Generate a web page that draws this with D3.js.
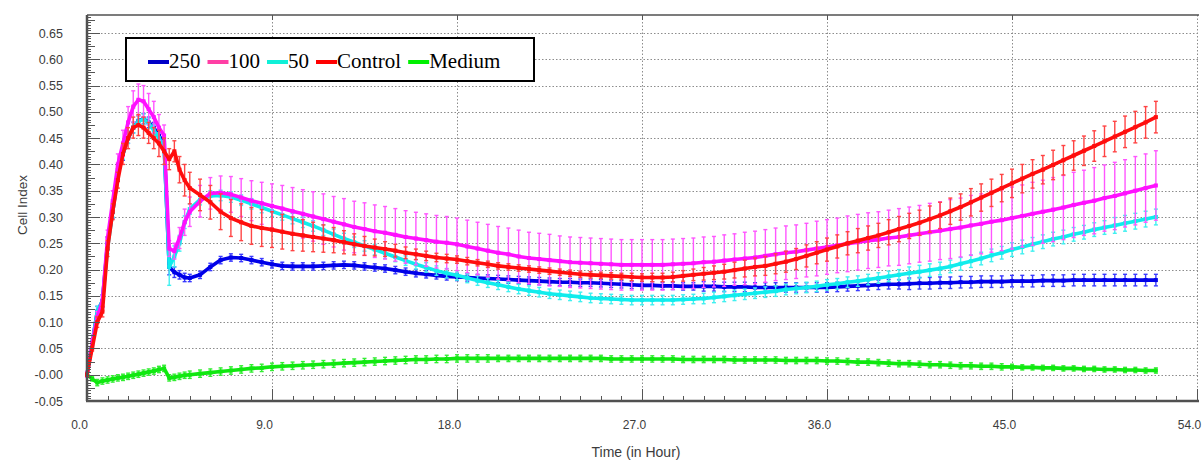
<!DOCTYPE html>
<html><head><meta charset="utf-8">
<script src="https://cdn.jsdelivr.net/npm/d3@7"></script>
<style>body{margin:0;background:#fff;} svg{display:block;}</style>
</head><body><svg id="chart" width="1202" height="461"></svg>
<script>
// sampling times (hours): every 0.25 h up to 5 h, then every 0.5 h
const hours = d3.range(0, 5, 0.25).concat(d3.range(5, 52.01, 0.5));

const seriesNames = ["250", "100", "50", "Control", "Medium"];

const vals250 = [0,0.06,0.12,0.14,0.25,0.31,0.38,0.42,0.45,0.47,0.483,0.487,0.48,0.47,0.455,0.44,0.205,0.195,0.19,0.185,
0.184,0.19,0.205,0.218,0.223,0.222,0.218,0.214,0.21,0.207,
0.206,0.206,0.206,0.207,0.208,0.209,0.208,0.206,0.204,0.202,
0.199,0.196,0.193,0.191,0.189,0.187,0.186,0.185,0.184,0.183,
0.182,0.181,0.180,0.179,0.178,0.177,0.176,0.176,0.175,0.175,
0.174,0.173,0.172,0.171,0.170,0.170,0.169,0.169,0.168,0.168,
0.168,0.168,0.167,0.167,0.167,0.166,0.166,0.166,0.166,0.166,
0.166,0.166,0.166,0.167,0.168,0.169,0.170,0.171,0.172,0.172,
0.173,0.174,0.174,0.175,0.175,0.176,0.176,0.177,0.177,0.177,
0.178,0.178,0.178,0.179,0.179,0.179,0.180,0.180,0.180,0.180,
0.180,0.180,0.180,0.180,0.180];

const vals100 = [0,0.06,0.11,0.14,0.26,0.33,0.40,0.44,0.48,0.51,0.523,0.52,0.505,0.49,0.47,0.455,0.24,0.235,0.26,0.29,
0.31,0.33,0.345,0.346,0.343,0.337,0.331,0.326,0.321,0.316,
0.311,0.306,0.301,0.296,0.291,0.286,0.281,0.277,0.273,0.270,
0.266,0.262,0.259,0.256,0.253,0.251,0.248,0.244,0.240,0.236,
0.232,0.229,0.225,0.222,0.220,0.218,0.216,0.214,0.213,0.212,
0.211,0.210,0.209,0.209,0.209,0.209,0.209,0.210,0.211,0.212,
0.214,0.215,0.217,0.219,0.221,0.223,0.226,0.229,0.232,0.234,
0.237,0.240,0.243,0.246,0.249,0.252,0.255,0.257,0.260,0.262,
0.265,0.268,0.271,0.274,0.277,0.280,0.284,0.287,0.291,0.294,
0.298,0.302,0.306,0.310,0.314,0.318,0.323,0.327,0.331,0.336,
0.340,0.345,0.350,0.355,0.360];

const vals50 = [0,0.06,0.12,0.14,0.24,0.31,0.38,0.42,0.45,0.47,0.482,0.486,0.478,0.465,0.45,0.435,0.205,0.225,0.25,0.29,
0.315,0.333,0.340,0.341,0.338,0.332,0.325,0.318,0.311,0.304,
0.297,0.290,0.283,0.275,0.267,0.259,0.252,0.245,0.238,0.231,
0.224,0.217,0.210,0.204,0.198,0.193,0.189,0.184,0.179,0.175,
0.171,0.167,0.163,0.160,0.157,0.154,0.152,0.150,0.148,0.146,
0.145,0.144,0.143,0.142,0.142,0.142,0.142,0.142,0.143,0.144,
0.145,0.147,0.149,0.151,0.153,0.155,0.157,0.159,0.162,0.164,
0.166,0.168,0.171,0.173,0.176,0.178,0.181,0.184,0.187,0.190,
0.193,0.196,0.199,0.202,0.206,0.211,0.216,0.221,0.227,0.232,
0.238,0.243,0.248,0.253,0.258,0.262,0.267,0.271,0.276,0.280,
0.284,0.288,0.292,0.296,0.300];

const valsControl = [0,0.05,0.10,0.12,0.24,0.31,0.37,0.42,0.45,0.47,0.475,0.47,0.46,0.45,0.44,0.425,0.41,0.425,0.39,0.37,
0.355,0.342,0.328,0.31,0.298,0.29,0.283,0.279,0.276,0.272,
0.268,0.265,0.262,0.259,0.256,0.252,0.248,0.245,0.242,0.239,
0.236,0.232,0.229,0.226,0.223,0.221,0.219,0.216,0.213,0.210,
0.207,0.205,0.203,0.201,0.199,0.197,0.195,0.193,0.191,0.190,
0.189,0.188,0.187,0.186,0.185,0.185,0.185,0.186,0.188,0.190,
0.192,0.194,0.196,0.199,0.202,0.205,0.207,0.211,0.215,0.220,
0.226,0.232,0.238,0.244,0.250,0.255,0.260,0.265,0.271,0.277,
0.283,0.289,0.296,0.303,0.311,0.319,0.328,0.337,0.346,0.355,
0.364,0.373,0.382,0.390,0.399,0.408,0.417,0.426,0.435,0.444,
0.453,0.462,0.471,0.480,0.490];

const valsMedium = [0,-0.008,-0.015,-0.012,-0.010,-0.008,-0.006,-0.005,-0.003,-0.001,0.001,0.003,0.005,0.007,0.010,0.012,-0.006,-0.005,-0.003,-0.001,
0.000,0.002,0.004,0.006,0.008,0.010,0.012,0.013,0.015,0.016,
0.017,0.018,0.019,0.020,0.021,0.022,0.023,0.024,0.025,0.026,
0.027,0.028,0.029,0.029,0.030,0.030,0.031,0.031,0.031,0.031,
0.031,0.031,0.031,0.031,0.031,0.031,0.031,0.031,0.031,0.031,
0.031,0.030,0.030,0.030,0.030,0.030,0.030,0.030,0.029,0.029,
0.029,0.029,0.029,0.028,0.028,0.028,0.028,0.028,0.027,0.027,
0.027,0.027,0.026,0.026,0.025,0.024,0.024,0.023,0.022,0.021,
0.021,0.020,0.019,0.019,0.018,0.017,0.017,0.016,0.016,0.015,
0.015,0.014,0.014,0.013,0.013,0.012,0.012,0.011,0.011,0.010,
0.010,0.009,0.009,0.008,0.008];

// standard deviations (error bars)
const sd250 = [0.003,0.005,0.01,0.012,0.012,0.012,0.012,0.012,0.01,0.01,0.01,0.01,0.01,0.01,0.01,0.01,0.015,0.01,0.008,0.008,
0.007,0.007,0.007,0.007,0.007,0.007,0.007,0.007,0.007,0.007,
0.007,0.007,0.007,0.007,0.007,0.007,0.007,0.007,0.007,0.007,
0.007,0.007,0.007,0.007,0.007,0.007,0.007,0.007,0.007,0.007,
0.007,0.007,0.007,0.007,0.007,0.007,0.007,0.007,0.007,0.007,
0.007,0.007,0.007,0.007,0.007,0.007,0.007,0.007,0.007,0.007,
0.009,0.009,0.009,0.009,0.009,0.009,0.009,0.009,0.009,0.009,
0.009,0.009,0.009,0.009,0.009,0.009,0.009,0.009,0.009,0.009,
0.011,0.011,0.011,0.011,0.011,0.011,0.011,0.011,0.011,0.011,
0.011,0.011,0.011,0.011,0.011,0.011,0.011,0.011,0.011,0.011,
0.011,0.011,0.011,0.011,0.011];

const sd100 = [0.005,0.008,0.01,0.01,0.015,0.02,0.02,0.025,0.03,0.03,0.03,0.03,0.03,0.03,0.025,0.02,0.015,0.015,0.02,0.025,
0.028,0.03,0.03,0.032,0.034,0.036,0.038,0.04,0.042,0.044,
0.045,0.046,0.047,0.048,0.048,0.049,0.049,0.05,0.05,0.05,
0.05,0.05,0.05,0.05,0.05,0.05,0.05,0.05,0.05,0.05,
0.05,0.05,0.05,0.049,0.049,0.049,0.048,0.048,0.048,0.048,
0.048,0.048,0.048,0.048,0.048,0.048,0.048,0.048,0.048,0.048,
0.048,0.048,0.049,0.049,0.05,0.05,0.05,0.05,0.051,0.051,
0.051,0.052,0.052,0.052,0.053,0.053,0.053,0.053,0.053,0.054,
0.054,0.054,0.055,0.055,0.056,0.056,0.057,0.057,0.058,0.058,
0.059,0.059,0.06,0.06,0.061,0.061,0.062,0.062,0.063,0.063,
0.064,0.064,0.065,0.065,0.066];

const sd50 = [0.003,0.005,0.01,0.01,0.01,0.01,0.01,0.01,0.01,0.01,0.01,0.01,0.01,0.01,0.01,0.01,0.035,0.02,0.015,0.012,
0.01,0.01,0.01,0.01,0.01,0.01,0.01,0.01,0.01,0.01,
0.01,0.01,0.01,0.01,0.01,0.01,0.01,0.01,0.01,0.01,
0.009,0.009,0.009,0.009,0.009,0.009,0.009,0.009,0.009,0.009,
0.009,0.009,0.009,0.009,0.009,0.009,0.009,0.009,0.009,0.009,
0.009,0.009,0.009,0.009,0.009,0.009,0.009,0.009,0.009,0.009,
0.01,0.01,0.01,0.01,0.01,0.01,0.01,0.01,0.01,0.01,
0.01,0.01,0.01,0.01,0.01,0.01,0.01,0.01,0.01,0.01,
0.012,0.012,0.012,0.012,0.012,0.012,0.012,0.012,0.012,0.012,
0.013,0.013,0.013,0.013,0.013,0.013,0.013,0.013,0.013,0.013,
0.015,0.015,0.015,0.015,0.015];

const sdControl = [0.003,0.005,0.01,0.01,0.015,0.015,0.015,0.02,0.02,0.02,0.02,0.02,0.02,0.02,0.025,0.025,0.02,0.02,0.025,0.03,
0.03,0.03,0.032,0.034,0.035,0.035,0.035,0.035,0.034,0.033,
0.032,0.03,0.028,0.026,0.024,0.022,0.02,0.018,0.016,0.014,
0.012,0.011,0.01,0.009,0.008,0.008,0.007,0.007,0.006,0.006,
0.006,0.006,0.006,0.006,0.006,0.006,0.006,0.006,0.006,0.006,
0.006,0.006,0.006,0.007,0.007,0.008,0.008,0.009,0.01,0.011,
0.012,0.013,0.014,0.015,0.016,0.017,0.018,0.019,0.02,0.02,
0.021,0.021,0.022,0.022,0.022,0.023,0.023,0.023,0.024,0.024,
0.024,0.024,0.025,0.025,0.025,0.025,0.026,0.026,0.026,0.026,
0.027,0.027,0.027,0.027,0.028,0.028,0.028,0.028,0.029,0.029,
0.029,0.03,0.03,0.03,0.03];

const sdMedium = [0.002,0.004,0.006,0.006,0.006,0.006,0.006,0.006,0.006,0.006,0.006,0.006,0.006,0.006,0.006,0.006,0.006,0.006,0.006,0.006,
0.007,0.007,0.007,0.007,0.007,0.007,0.007,0.007,0.007,0.007,
0.007,0.007,0.007,0.007,0.007,0.007,0.007,0.007,0.007,0.007,
0.007,0.007,0.007,0.007,0.007,0.007,0.007,0.007,0.007,0.007,
0.006,0.006,0.006,0.006,0.006,0.006,0.006,0.006,0.006,0.006,
0.006,0.006,0.006,0.006,0.006,0.006,0.006,0.006,0.006,0.006,
0.006,0.006,0.006,0.006,0.006,0.006,0.006,0.006,0.006,0.006,
0.006,0.006,0.006,0.006,0.006,0.006,0.006,0.006,0.006,0.006,
0.006,0.006,0.006,0.006,0.006,0.006,0.006,0.006,0.006,0.006,
0.005,0.005,0.005,0.005,0.005,0.005,0.005,0.005,0.005,0.005,
0.005,0.005,0.005,0.005,0.005];

const xTickValues = [0, 9, 18, 27, 36, 45, 54];
const xTickLabels = ["0.0", "9.0", "18.0", "27.0", "36.0", "45.0", "54.0"];
const yTickValues = [0.65,0.60,0.55,0.50,0.45,0.40,0.35,0.30,0.25,0.20,0.15,0.10,0.05,0.00,-0.05];
const yTickLabels = ["0.65","0.60","0.55","0.50","0.45","0.40","0.35","0.30","0.25","0.20","0.15","0.10","0.05","-0.00","-0.05"];

// ---------- drawing ----------
const lineColors = {"250":"#0000e8","100":"#ff10ff","50":"#10ecec","Control":"#ff0d0d","Medium":"#10e810"};
const barColors  = {"250":"#3a3aff","100":"#ff55ff","50":"#40f0f0","Control":"#ff4444","Medium":"#33ee33"};
const legendColors = {"250":"#0000c8","100":"#ff3fa5","50":"#10f0d8","Control":"#ff0000","Medium":"#00f000"};

const table = {
  "250": {v: vals250, sd: sd250},
  "100": {v: vals100, sd: sd100},
  "50": {v: vals50, sd: sd50},
  "Control": {v: valsControl, sd: sdControl},
  "Medium": {v: valsMedium, sd: sdMedium}
};

(function draw() {
const svg = d3.select("#chart");
const pL = 87, pR = 1199, pT = 15, pB = 401;
const x = d3.scaleLinear().domain([0, 54]).range([87, 1197]);
const y = d3.scaleLinear().domain([-0.05, 0.65]).range([401, 33]);

svg.append("rect").attr("x",0).attr("y",0).attr("width",1202).attr("height",461).attr("fill","#fff");

// grid
const grid = svg.append("g").attr("stroke","#8c8c8c").attr("stroke-width",1).attr("stroke-dasharray","1.5,2");
grid.selectAll("line.h").data(yTickValues.filter(v => v > -0.04)).join("line")
  .attr("x1", pL).attr("x2", pR).attr("y1", d => Math.round(y(d)) + 0.5).attr("y2", d => Math.round(y(d)) + 0.5);
grid.selectAll("line.v").data(xTickValues.filter(v => v > 0)).join("line")
  .attr("x1", d => Math.round(x(d)) + 0.5).attr("x2", d => Math.round(x(d)) + 0.5).attr("y1", pT).attr("y2", pB);

// data
const drawOrder = ["Medium", "250", "50", "100", "Control"];
const lineGen = d3.line().x(d => x(d.t)).y(d => y(d.v));
drawOrder.forEach(name => {
  const s = table[name];
  const pts = hours.map((t, i) => ({t, v: s.v[i], sd: s.sd[i]}));
  const g = svg.append("g");
  const bars = g.append("g").attr("stroke", barColors[name]).attr("stroke-width", 1.4);
  bars.selectAll("line.e").data(pts).join("line").attr("class","e")
    .attr("x1", d => x(d.t)).attr("x2", d => x(d.t))
    .attr("y1", d => y(d.v + d.sd)).attr("y2", d => y(d.v - d.sd));
  bars.selectAll("line.ct").data(pts).join("line").attr("class","ct")
    .attr("x1", d => x(d.t) - 2).attr("x2", d => x(d.t) + 2)
    .attr("y1", d => y(d.v + d.sd)).attr("y2", d => y(d.v + d.sd));
  bars.selectAll("line.cb").data(pts).join("line").attr("class","cb")
    .attr("x1", d => x(d.t) - 2).attr("x2", d => x(d.t) + 2)
    .attr("y1", d => y(d.v - d.sd)).attr("y2", d => y(d.v - d.sd));
  g.append("path").datum(pts).attr("d", lineGen).attr("fill","none")
    .attr("stroke", lineColors[name]).attr("stroke-width", 3.6).attr("stroke-linejoin","round");
  g.selectAll("rect.m").data(pts).join("rect").attr("class","m")
    .attr("x", d => x(d.t) - 2).attr("y", d => y(d.v) - 2).attr("width", 4).attr("height", 4)
    .attr("fill", lineColors[name]);
});

// frame
const frame = svg.append("g").attr("stroke","#505050").attr("fill","none");
frame.append("line").attr("x1", pL).attr("x2", pR).attr("y1", pT).attr("y2", pT).attr("stroke-width", 1.5);
frame.append("line").attr("x1", pL).attr("x2", pL).attr("y1", pT).attr("y2", pB).attr("stroke-width", 2.5);
frame.append("line").attr("x1", pL - 1).attr("x2", pR).attr("y1", pB).attr("y2", pB).attr("stroke-width", 2.5);

// y ticks (inward)
const yMinor = d3.range(-0.05, 0.6801, 0.005);
const yt = svg.append("g").attr("stroke","#555").attr("stroke-width",1);
yt.selectAll("line").data(yMinor).join("line")
  .attr("x1", pL).attr("y1", d => Math.round(y(d)) + 0.5).attr("y2", d => Math.round(y(d)) + 0.5)
  .attr("x2", d => {
    const k = Math.round(d * 1000);
    if (k % 50 === 0) return pL + 13;
    if (k % 25 === 0) return pL + 8;
    return pL + 4;
  });

// x ticks (inward, bottom) and small top ticks
const xMinor = d3.range(0, 54.01, 1);
const xt = svg.append("g").attr("stroke","#555").attr("stroke-width",1);
xt.selectAll("line.b").data(xMinor).join("line").attr("class","b")
  .attr("x1", d => Math.round(x(d)) + 0.5).attr("x2", d => Math.round(x(d)) + 0.5)
  .attr("y1", pB).attr("y2", d => d % 9 === 0 ? pB - 12 : pB - 5);
xt.selectAll("line.t").data(xTickValues.filter(v => v > 0 && v < 54)).join("line").attr("class","t")
  .attr("x1", d => Math.round(x(d)) + 0.5).attr("x2", d => Math.round(x(d)) + 0.5)
  .attr("y1", pT).attr("y2", pT + 5);

// axis labels via d3 axes
const yAxis = d3.axisLeft(y).tickValues(yTickValues).tickSize(0).tickPadding(24)
  .tickFormat((d, i) => yTickLabels[i]);
const gy = svg.append("g").attr("transform", `translate(${pL},0)`).call(yAxis);
gy.select(".domain").remove();
gy.selectAll("text").attr("font-family","'Liberation Sans', Arial, sans-serif").attr("font-size", 12.5).attr("fill","#3c3c3c");

const xAxis = d3.axisBottom(x).tickValues(xTickValues).tickSize(0).tickPadding(19)
  .tickFormat((d, i) => xTickLabels[i]);
const gx = svg.append("g").attr("transform", `translate(0,${pB})`).call(xAxis);
gx.select(".domain").remove();
gx.selectAll("text").attr("dx", -8).attr("font-family","'Liberation Sans', Arial, sans-serif").attr("font-size", 12).attr("fill","#3c3c3c");

svg.append("text").attr("x", 636).attr("y", 457).attr("text-anchor","middle")
  .attr("font-family","'Liberation Sans', Arial, sans-serif").attr("font-size", 14).attr("fill","#3c3c3c")
  .text("Time (in Hour)");
svg.append("text").attr("transform","translate(27,205) rotate(-90)").attr("text-anchor","middle")
  .attr("font-family","'Liberation Sans', Arial, sans-serif").attr("font-size", 13.5).attr("fill","#3c3c3c")
  .text("Cell Index");

// legend
const lg = svg.append("g");
lg.append("rect").attr("x",126).attr("y",38).attr("width",408).attr("height",43)
  .attr("fill","#fff").attr("stroke","#000").attr("stroke-width",2);
let cx = 148;
seriesNames.forEach(name => {
  lg.append("line").attr("x1", cx).attr("x2", cx + 21).attr("y1", 62).attr("y2", 62)
    .attr("stroke", legendColors[name]).attr("stroke-width", 4);
  const t = lg.append("text").attr("x", cx + 21).attr("y", 68)
    .attr("font-family","'Liberation Serif', 'Times New Roman', serif").attr("font-size", 21).attr("fill","#000")
    .text(name);
  cx = cx + 21 + t.node().getComputedTextLength() + 7;
});
})();
</script></body></html>
